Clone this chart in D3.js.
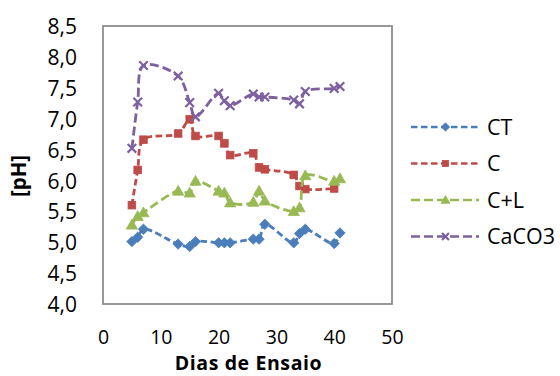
<!DOCTYPE html>
<html>
<head>
<meta charset="utf-8">
<script src="https://cdn.jsdelivr.net/npm/d3@7"></script>
<style>
  html, body { margin: 0; padding: 0; background: #fff; }
  svg { display: block; font-family: "Open Sans", "Noto Sans", sans-serif; }
</style>
</head>
<body>
<svg id="chart" width="560" height="376"></svg>
<script>
// Days of the trial and pH readings for each treatment
const days   = [5, 6, 7, 13, 15, 16, 20, 21, 22, 26, 27, 28, 33, 34, 35, 40, 41];
const ctVals = [5.01, 5.08, 5.21, 4.97, 4.93, 5.01, 4.99, 4.99, 4.99, 5.05, 5.05, 5.29, 4.99, 5.14, 5.21, 4.98, 5.15];
const cDays  = [5, 6, 7, 13, 15, 16, 20, 21, 22, 26, 27, 28, 33, 34, 35, 40];
const cVals  = [5.60, 6.17, 6.66, 6.76, 6.99, 6.72, 6.72, 6.60, 6.41, 6.44, 6.21, 6.18, 6.09, 5.91, 5.86, 5.87];
const clVals = [5.28, 5.42, 5.48, 5.83, 5.80, 5.99, 5.83, 5.80, 5.64, 5.65, 5.83, 5.67, 5.50, 5.56, 6.08, 5.99, 6.03];
const caVals = [6.52, 7.27, 7.86, 7.69, 7.26, 7.03, 7.41, 7.29, 7.21, 7.40, 7.35, 7.35, 7.30, 7.24, 7.44, 7.49, 7.52];

const xTicks = [0, 10, 20, 30, 40, 50];
const yTicks = [4.0, 4.5, 5.0, 5.5, 6.0, 6.5, 7.0, 7.5, 8.0, 8.5];

const seriesNames  = ["CT", "C", "C+L", "CaCO3"];
const seriesColors = ["#4A7EBB", "#BE4B48", "#98B954", "#7D60A0"];

const series = [
  { name: seriesNames[0], color: seriesColors[0], xs: days,  ys: ctVals, marker: "diamond",  dash: "6.5,3.5" },
  { name: seriesNames[1], color: seriesColors[1], xs: cDays, ys: cVals,  marker: "square",   dash: "6.5,3.5" },
  { name: seriesNames[2], color: seriesColors[2], xs: days,  ys: clVals, marker: "triangle", dash: "9,4" },
  { name: seriesNames[3], color: seriesColors[3], xs: days,  ys: caVals, marker: "cross",    dash: "9,4" }
];

const svg = d3.select("#chart");
const plot = { left: 103, right: 392, top: 26, bottom: 304 };

const x = d3.scaleLinear().domain([0, 50]).range([plot.left, plot.right]);
const y = d3.scaleLinear().domain([4, 8.5]).range([plot.bottom, plot.top]);

const ptLocale = d3.formatLocale({ decimal: ",", thousands: ".", grouping: [3], currency: ["", ""] });
const fmt1 = ptLocale.format(".1f");

// Plot frame
svg.append("rect")
  .attr("x", plot.left).attr("y", plot.top)
  .attr("width", plot.right - plot.left).attr("height", plot.bottom - plot.top)
  .attr("fill", "none").attr("stroke", "#8a8a8a").attr("stroke-width", 1.75);

// Y axis (labels only)
const yAxis = d3.axisLeft(y).tickValues(yTicks).tickFormat(fmt1).tickSize(0).tickPadding(26);
const gy = svg.append("g").attr("transform", `translate(${plot.left},0)`).call(yAxis);
gy.select(".domain").remove();
gy.selectAll("text").attr("font-size", 21).attr("fill", "#000").attr("dy", "0.36em")
  .attr("font-family", "'Open Sans', sans-serif");

// X axis (labels only)
const xAxis = d3.axisBottom(x).tickValues(xTicks).tickFormat(d3.format("d")).tickSize(0).tickPadding(0);
const gx = svg.append("g").attr("transform", `translate(0,${plot.bottom})`).call(xAxis);
gx.select(".domain").remove();
gx.selectAll("text").attr("font-size", 19.5).attr("fill", "#000").attr("dy", null).attr("y", 39.5)
  .attr("font-family", "'Open Sans', sans-serif");

// Axis titles
svg.append("text")
  .attr("x", (plot.left + plot.right) / 2 + 1).attr("y", 370.2)
  .attr("text-anchor", "middle").attr("font-size", 19.5).attr("font-weight", "bold")
  .attr("letter-spacing", 0.6)
  .text("Dias de Ensaio");

svg.append("text")
  .attr("transform", "translate(26,176) rotate(-90)")
  .attr("text-anchor", "middle").attr("font-size", 20.5).attr("font-weight", "bold")
  .text("[pH]");

// Marker drawing helper
function drawMarker(g, type, color, cx, cy, s) {
  if (type === "diamond") {
    const r = 5.2 * s;
    g.append("path").attr("d", `M${cx},${cy - r}L${cx + r},${cy}L${cx},${cy + r}L${cx - r},${cy}Z`)
      .attr("fill", color).attr("stroke", color).attr("stroke-width", 0.8);
  } else if (type === "square") {
    const h = 3.8 * s;
    g.append("rect").attr("x", cx - h).attr("y", cy - h).attr("width", 2 * h).attr("height", 2 * h)
      .attr("fill", color).attr("stroke", color).attr("stroke-width", 0.8);
  } else if (type === "triangle") {
    const r = 5.6 * s;
    g.append("path")
      .attr("d", `M${cx},${cy - r}L${cx + r},${cy + r * 0.75}L${cx - r},${cy + r * 0.75}Z`)
      .attr("fill", color).attr("stroke", color).attr("stroke-width", 0.8);
  } else {
    const r = 4.3 * s;
    g.append("path")
      .attr("d", `M${cx - r},${cy - r}L${cx + r},${cy + r}M${cx - r},${cy + r}L${cx + r},${cy - r}`)
      .attr("fill", "none").attr("stroke", color).attr("stroke-width", 2.2);
  }
}

// Series lines and markers (smoothed lines)
const line = d3.line().curve(d3.curveCatmullRom.alpha(0.5));
series.forEach(s => {
  const pts = s.xs.map((d, i) => [x(d), y(s.ys[i])]);
  const g = svg.append("g").attr("class", "series");
  g.append("path").attr("d", line(pts))
    .attr("fill", "none").attr("stroke", s.color).attr("stroke-width", 2.8)
    .attr("stroke-dasharray", s.dash).attr("stroke-linecap", "butt");
  pts.forEach(p => drawMarker(g, s.marker, s.color, p[0], p[1], 1));
});

// Legend
const legendRows = [127, 163.5, 200, 236.5];
series.forEach((s, i) => {
  const g = svg.append("g").attr("class", "legend-item");
  const ly = legendRows[i];
  g.append("line").attr("x1", 411).attr("x2", 479).attr("y1", ly).attr("y2", ly)
    .attr("stroke", s.color).attr("stroke-width", 2.5).attr("stroke-dasharray", s.dash);
  drawMarker(g, s.marker, s.color, 445.5, ly, 0.8);
  g.append("text").attr("x", 487).attr("y", ly).attr("dy", "0.36em")
    .attr("font-size", 21.5).attr("fill", "#000").text(s.name);
});
</script>
</body>
</html>
